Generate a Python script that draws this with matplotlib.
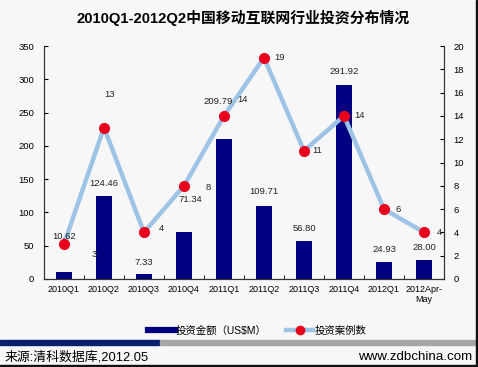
import matplotlib
matplotlib.use('Agg')
import matplotlib.pyplot as plt
from matplotlib.lines import Line2D
import numpy as np

plt.rcParams['font.family'] = ['Liberation Sans', 'Noto Sans CJK SC']

quarters = ['2010Q1', '2010Q2', '2010Q3', '2010Q4', '2011Q1', '2011Q2',
            '2011Q3', '2011Q4', '2012Q1', '2012Apr-\nMay']
amount = [10.62, 124.46, 7.33, 71.34, 209.79, 109.71, 56.80, 291.92, 24.93, 28.00]
cases = [3, 13, 4, 8, 14, 19, 11, 14, 6, 4]

# label offsets in pixels (hand-tuned to the reference)
amount_off = [(0, 35), (0, 13), (0, 12), (6, 32), (-6, 38),
              (0, 14), (0, 13), (0, 13), (0, 13), (0, 13)]
cases_off = [(30, -10), (6, 33), (17, 4), (24, -2), (19, 16),
             (16, 0), (13, 0), (16, 0), (14, 0), (15, 0)]

bg = '#f7f7f7'
fig = plt.figure(figsize=(4.78, 3.67), dpi=100, facecolor=bg)
ax = fig.add_axes([44 / 478, 88 / 367, 400 / 478, 233 / 367])
ax.set_facecolor(bg)
x = np.arange(len(quarters))

ax.bar(x, amount, width=0.38, color='#000080', zorder=2)
ax.set_xlim(-0.5, len(quarters) - 0.5)
ax.set_ylim(0, 350)
ax.set_yticks(range(0, 351, 50))

ax2 = ax.twinx()
ax2.plot(x, cases, color='#9dc3e6', lw=3.2, zorder=3)
ax2.plot(x, cases, 'o', color='#e8001c', ms=7, zorder=4)
ax2.set_ylim(0, 20)
ax2.set_yticks(range(0, 21, 2))

# all value labels on the top axes so they sit above the line
for xi, v, (dx, dy) in zip(x, amount, amount_off):
    ax2.annotate('%.2f' % v, (xi, v), xycoords=ax.transData, xytext=(dx, dy),
                 textcoords='offset pixels', ha='center', va='center',
                 fontsize=6.8, color='#222222', zorder=6)
for xi, v, (dx, dy) in zip(x, cases, cases_off):
    ax2.annotate(str(v), (xi, v), xytext=(dx, dy), textcoords='offset pixels',
                 ha='center', va='center', fontsize=6.8, color='#222222', zorder=6)

ax.set_xticks(x)
ax.set_xticklabels(quarters, fontsize=6.5)
ax.set_xticks(np.arange(-0.5, len(quarters), 1), minor=True)
ax.tick_params(axis='x', which='major', length=0, pad=4)
ax.tick_params(axis='x', which='minor', direction='in', length=3)
ax.tick_params(axis='y', direction='in', length=3, labelsize=6.8, pad=7)
ax2.tick_params(axis='y', direction='in', length=3, labelsize=6.8, pad=7)
for a in (ax, ax2):
    a.spines['top'].set_visible(False)
    for s in ('left', 'right', 'bottom'):
        a.spines[s].set_color('#333333')
        a.spines[s].set_linewidth(0.8)

fig.text(243 / 478, 1 - 18 / 367, '2010Q1-2012Q2中国移动互联网行业投资分布情况',
         ha='center', va='center', fontsize=10.7, fontweight='bold')

handles = [Line2D([], [], color='#000080', lw=4.5),
           Line2D([], [], color='#9dc3e6', lw=3.2, marker='o',
                  markerfacecolor='#e8001c', markeredgecolor='#e8001c', ms=6)]
fig.legend(handles, ['投资金额（US$M）', '投资案例数'], loc='center',
           bbox_to_anchor=(257 / 478, 1 - 331 / 367), ncol=2, frameon=False,
           fontsize=7.5, handlelength=2.6, columnspacing=1.9, handletextpad=0.1)

# footer bars, source text and frame
fig.patches.append(plt.Rectangle((0, 1 - 345 / 367), 160 / 478, 5 / 367,
                                 transform=fig.transFigure, color='#0a1f6e'))
fig.patches.append(plt.Rectangle((160 / 478, 1 - 345 / 367), 315 / 478, 5 / 367,
                                 transform=fig.transFigure, color='#a6a6a6'))
fig.patches.append(plt.Rectangle((476 / 478, 0), 2 / 478, 1,
                                 transform=fig.transFigure, color='#111111'))
fig.patches.append(plt.Rectangle((0, 0), 1, 2 / 367,
                                 transform=fig.transFigure, color='#111111'))
fig.text(5 / 478, 1 - 357 / 367, '来源:清科数据库,2012.05', ha='left', va='center',
         fontsize=9.3)
fig.text(472 / 478, 1 - 357 / 367, 'www.zdbchina.com', ha='right', va='center',
         fontsize=9.6)

fig.savefig('out.png', dpi=100, facecolor=bg)
